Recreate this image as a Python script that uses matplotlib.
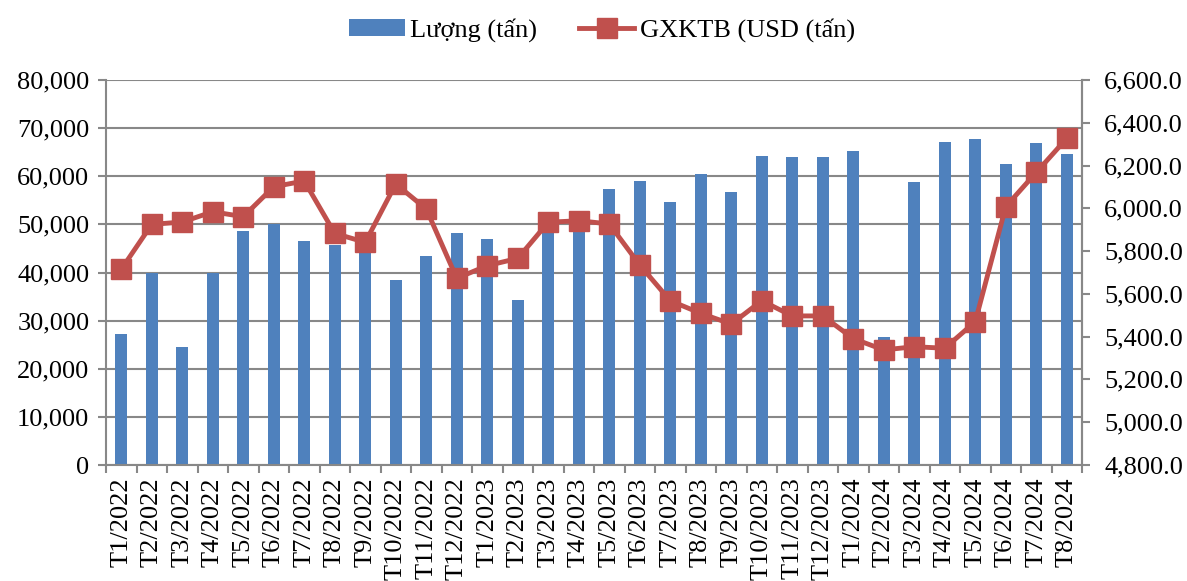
import matplotlib
matplotlib.use("Agg")
import matplotlib.pyplot as plt
from matplotlib.ticker import FuncFormatter, MultipleLocator, FixedLocator
import numpy as np

categories = ["T1/2022", "T2/2022", "T3/2022", "T4/2022", "T5/2022", "T6/2022", "T7/2022", "T8/2022",
              "T9/2022", "T10/2022", "T11/2022", "T12/2022",
              "T1/2023", "T2/2023", "T3/2023", "T4/2023", "T5/2023", "T6/2023", "T7/2023", "T8/2023",
              "T9/2023", "T10/2023", "T11/2023", "T12/2023",
              "T1/2024", "T2/2024", "T3/2024", "T4/2024", "T5/2024", "T6/2024", "T7/2024", "T8/2024"]

luong = [27200, 39800, 24500, 40000, 48700, 50000, 46500, 45800,
         44800, 38500, 43500, 48200,
         46900, 34200, 48500, 48900, 57300, 59100, 54600, 60500,
         56700, 64300, 64100, 64100,
         65200, 26500, 58900, 67100, 67700, 62500, 66900, 64600]

gia = [5715, 5925, 5936, 5984, 5961, 6101, 6128, 5883,
       5841, 6114, 5997, 5673,
       5732, 5766, 5935, 5942, 5927, 5735, 5568, 5509,
       5459, 5568, 5497, 5497,
       5391, 5338, 5353, 5346, 5470, 6008, 6168, 6327]

plt.rcParams['font.family'] = ['Liberation Serif', 'DejaVu Serif']

BLUE = "#4F81BD"
RED = "#C0504D"
GRID = "#888888"
FS = 19

fig = plt.figure(figsize=(11.87, 5.81), dpi=100)
ax = fig.add_axes([106/1187, 1 - 465/581, (1082-106)/1187, (465-80)/581])
x = np.arange(len(categories))

bars = ax.bar(x, luong, width=0.4, color=BLUE, zorder=2, label="Lượng (tấn)")
ax.set_xlim(-0.5, len(categories) - 0.5)
ax.set_ylim(0, 80000)
ax.yaxis.set_major_locator(MultipleLocator(10000))
ax.yaxis.set_major_formatter(FuncFormatter(lambda v, p: f"{int(v):,}"))
ax.grid(axis='y', color=GRID, linewidth=1.5, zorder=0)
ax.set_axisbelow(True)

ax.set_xticks(x)
ax.set_xticklabels(categories, rotation=90, fontsize=FS)
ax.xaxis.set_minor_locator(FixedLocator(np.arange(-0.5, len(categories), 1.0)))
ax.tick_params(axis='x', which='major', length=0, pad=9)
ax.tick_params(axis='x', which='minor', length=6, width=1.5, color=GRID)
ax.tick_params(axis='y', labelsize=FS, length=6, width=1.5, color=GRID, pad=6)

ax.spines['top'].set_visible(False)
for s in ['left', 'bottom', 'right']:
    ax.spines[s].set_color(GRID)
    ax.spines[s].set_linewidth(1.5)

ax2 = ax.twinx()
line, = ax2.plot(x, gia, color=RED, linewidth=3.5, marker='s', markersize=14,
                 markerfacecolor=RED, markeredgecolor=RED, zorder=3, label="GXKTB (USD (tấn)")
ax2.set_ylim(4800, 6600)
ax2.yaxis.set_major_locator(MultipleLocator(200))
ax2.yaxis.set_major_formatter(FuncFormatter(lambda v, p: f"{v:,.1f}"))
ax2.tick_params(axis='y', labelsize=FS, length=6, width=1.5, color=GRID, pad=10)
for s in ['top', 'left', 'bottom']:
    ax2.spines[s].set_visible(False)
ax2.spines['right'].set_color(GRID)
ax2.spines['right'].set_linewidth(1.5)

fig.legend(handles=[bars, line], labels=["Lượng (tấn)", "GXKTB (USD (tấn)"],
           loc='center', bbox_to_anchor=(602/1187, 1 - 30/581), ncol=2, frameon=False,
           fontsize=FS, handlelength=2.1, handleheight=0.6, columnspacing=1.6, handletextpad=0.2)

fig.savefig("out.png", dpi=100)
